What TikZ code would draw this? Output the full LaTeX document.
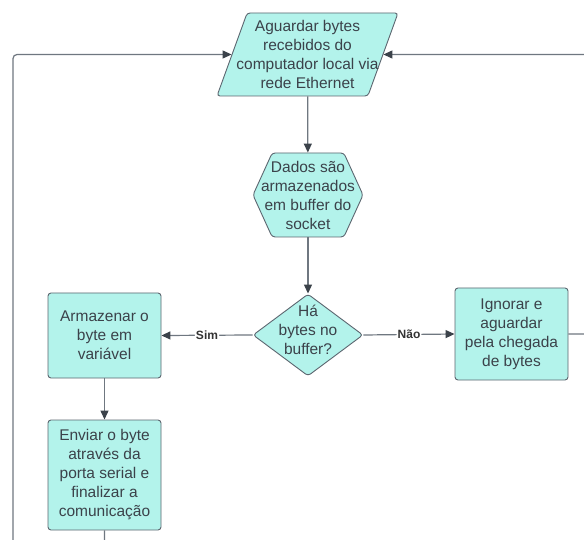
\documentclass[tikz,border=0pt]{standalone}
\usepackage{fontspec}
\setmainfont{Liberation Sans}
\usepackage{tikz}
\usetikzlibrary{arrows.meta,shapes.geometric,shapes.symbols}
\usepackage{xcolor}
\definecolor{boxfill}{HTML}{B3F3EB}
\definecolor{boxline}{HTML}{5C6670}
\definecolor{flowline}{HTML}{6F7780}
\definecolor{tipcol}{HTML}{3B424A}
\definecolor{txtcol}{HTML}{3B424A}

\tikzset{
	txt/.style={text=txtcol, font=\fontsize{15.5}{19}\selectfont, align=center},
	shapebox/.style={draw=boxline, fill=boxfill, line width=0.9pt, rounded corners=3pt, inner sep=1pt},
	procbox/.style={shapebox, txt, minimum width=113pt},
	iobox/.style={shapebox, trapezium, trapezium left angle=76, trapezium right angle=104,
		trapezium stretches=true, minimum width=181pt, minimum height=83pt},
	prepbox/.style={shapebox, signal, signal to=west and east, signal pointer angle=131,
		minimum width=110pt, minimum height=84pt},
	decbox/.style={shapebox, diamond, minimum width=110pt, minimum height=82pt},
	flow/.style={draw=flowline, line width=1.2pt, rounded corners=4pt,
		-{Triangle[length=9pt,width=8pt,color=tipcol]}},
	flowtag/.style={fill=white, inner sep=1pt, text=black!80, font=\fontsize{12}{14}\selectfont\bfseries}
}

\begin{document}
\begin{tikzpicture}[x=1pt, y=-1pt]
	\clip (0,0) rectangle (584,540);
	\fill[white] (0,0) rectangle (584,540);

	\node (wait) [iobox, label={[txt]center:Aguardar bytes\\recebidos do\\computador local via\\rede Ethernet}] at (307.5, 54.5) {};
	\node (buf) [prepbox, label={[txt]center:Dados são\\armazenados\\em buffer do\\socket}] at (308, 195) {};
	\node (dec) [decbox, label={[txt,yshift=5pt]center:Há\\bytes no\\buffer?}] at (308, 335) {};
	\node (store) [procbox, minimum height=85pt] at (104.5, 335.5) {Armazenar o\\byte em\\variável};
	\node (ignore) [procbox, minimum height=92pt] at (511.5, 334) {Ignorar e\\aguardar\\pela chegada\\de bytes};
	\node (send) [procbox, minimum height=110pt] at (104.5, 475) {Enviar o byte\\através da\\porta serial e\\finalizar a\\comunicação};

	% free ends outside the frame
	\coordinate (backL) at (13, 570);
	\coordinate (backR) at (610, 334);

	\draw[flow] (wait) -- (buf);
	\draw[flow] (buf) -- (dec);
	\draw[flow] (dec.west) -- node[flowtag] {Sim} (store.east);
	\draw[flow] (dec.east) -- node[flowtag] {Não} (ignore.west);
	\draw[flow] (store) -- (send);
	\draw[flow] (send.south) |- (backL) |- (wait.left side);
	\draw[flow] (ignore.east) -- (backR) |- (wait.right side);
\end{tikzpicture}
\end{document}
